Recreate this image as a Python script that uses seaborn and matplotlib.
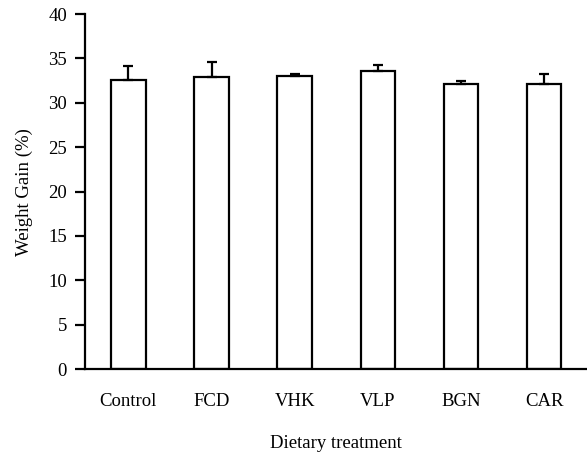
import matplotlib
matplotlib.use("Agg")
import matplotlib.pyplot as plt
import seaborn as sns
import pandas as pd

# values
treatments = ["Control", "FCD", "VHK", "VLP", "BGN", "CAR"]
weight_gain = [32.6, 32.9, 33.0, 33.6, 32.1, 32.1]
sem = [1.6, 1.7, 0.27, 0.65, 0.35, 1.15]
yticks = [0, 5, 10, 15, 20, 25, 30, 35, 40]

df = pd.DataFrame({"treatment": treatments, "gain": weight_gain})

sns.set_style("ticks")
plt.rcParams["font.family"] = ["Liberation Serif", "DejaVu Serif"]
plt.rcParams.update({
    "text.color": "black", "axes.labelcolor": "black",
    "xtick.color": "black", "ytick.color": "black", "axes.edgecolor": "black",
})

fig = plt.figure(figsize=(5.87, 4.54), dpi=100)
ax = fig.add_axes([0.145, 0.187, 0.853, 0.782])

sns.barplot(
    data=df, x="treatment", y="gain", color="white",
    edgecolor="black", linewidth=1.6, width=0.415, errorbar=None, ax=ax
)
for bar in ax.patches:
    bar.set_facecolor("white")

# upper error bars only
xpos = ax.get_xticks()
ax.errorbar(
    xpos, weight_gain, yerr=[[0] * len(sem), sem], fmt="none",
    ecolor="black", elinewidth=1.6, capsize=3.8, capthick=1.6, zorder=1
)

ax.set_xlim(-0.52, 5.5)
ax.set_ylim(0, 40)
ax.set_yticks(yticks)
ax.set_xlabel("Dietary treatment", fontsize=13.5, labelpad=18)
ax.set_ylabel("Weight Gain (%)", fontsize=13.5, labelpad=11)
ax.tick_params(axis="y", labelsize=13.5, length=7, width=1.6, pad=6)
ax.tick_params(axis="x", labelsize=13.5, length=0, pad=17)

sns.despine(ax=ax)
ax.spines["left"].set_linewidth(1.6)
ax.spines["bottom"].set_linewidth(1.6)

fig.savefig("out.png", dpi=100)
